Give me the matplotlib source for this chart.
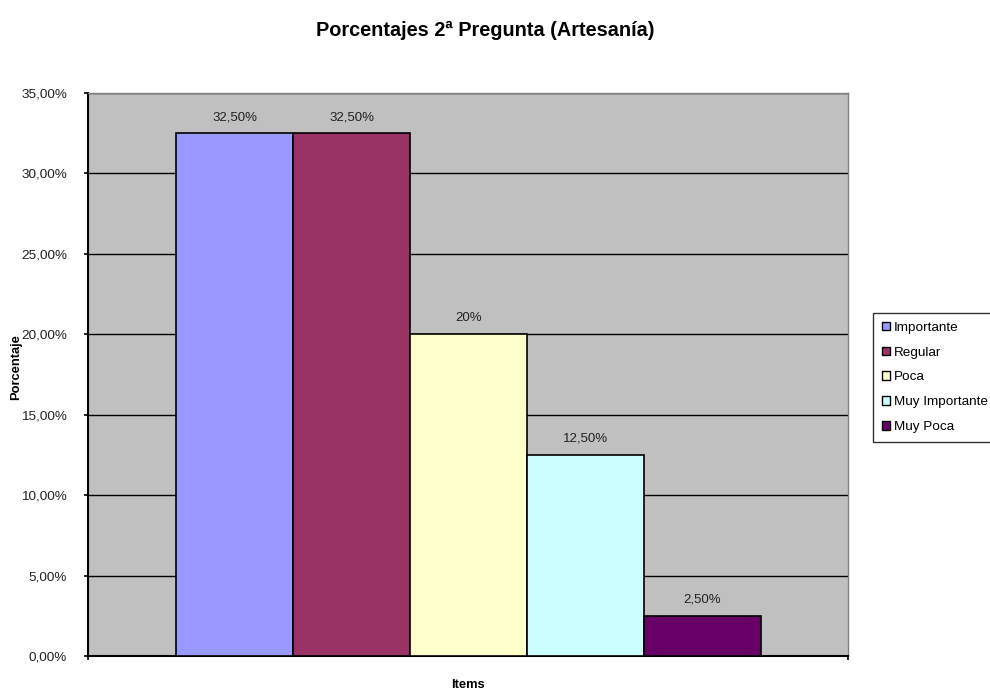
import matplotlib

matplotlib.use("Agg")

import matplotlib.pyplot as plt
from matplotlib.patches import Patch
from matplotlib.ticker import FuncFormatter, MultipleLocator

plt.rcParams["font.family"] = ["Liberation Sans", "DejaVu Sans"]

categories = ["Importante", "Regular", "Poca", "Muy Importante", "Muy Poca"]
values = [0.325, 0.325, 0.20, 0.125, 0.025]
value_labels = ["32,50%", "32,50%", "20%", "12,50%", "2,50%"]
colors = ["#9999FF", "#993366", "#FFFFCC", "#CCFFFF", "#660066"]

fig = plt.figure(figsize=(9.9, 6.92), dpi=100)
ax = fig.add_axes([88 / 990, 1 - 656 / 692, 760 / 990, 563 / 692])
ax.set_facecolor("#C0C0C0")

positions = list(range(len(values)))
bars = ax.bar(positions, values, width=1.0, align="edge", color=colors,
              edgecolor="black", linewidth=1.2, zorder=3)
for bar, text in zip(bars, value_labels):
    ax.annotate(text, (bar.get_x() + bar.get_width() / 2, bar.get_height()),
                xytext=(0, 11.5), textcoords="offset points", ha="center",
                va="center", fontsize=9.5, color="#222222")

ax.set_xlim(-0.752, 5.744)
ax.set_ylim(0, 0.35)
ax.yaxis.set_major_locator(MultipleLocator(0.05))
ax.yaxis.set_major_formatter(FuncFormatter(lambda v, _: f"{v * 100:.2f}%".replace(".", ",")))
ax.grid(axis="y", color="black", linewidth=1.0, zorder=1)
ax.set_axisbelow(True)
ax.set_xticks([-0.752, 5.744])
ax.set_xticklabels(["", ""])
ax.tick_params(axis="both", direction="out", length=3, width=1.2, labelsize=9.7, colors="black")
ax.tick_params(axis="y", pad=12, labelcolor="#222222")

for side in ["top", "right"]:
    ax.spines[side].set_color("#808080")
    ax.spines[side].set_linewidth(1.0)
for side in ["left", "bottom"]:
    ax.spines[side].set_color("black")
    ax.spines[side].set_linewidth(1.5)

fig.text(0.49, 1 - 30 / 692, "Porcentajes 2ª Pregunta (Artesanía)", ha="center", va="center",
         fontsize=14.3, fontweight="bold")
fig.text(16 / 990, 1 - 367 / 692, "Porcentaje", rotation=90, ha="center", va="center",
         fontsize=9.3, fontweight="bold")
fig.text(468 / 990, 1 - 685 / 692, "Items", ha="center", va="center", fontsize=9.3, fontweight="bold")

handles = [Patch(facecolor=c, edgecolor="black", linewidth=1.0) for c in colors]
leg = fig.legend(handles, categories, loc="upper left", bbox_to_anchor=(873 / 990, 1 - 313 / 692),
                 frameon=True, fancybox=False, fontsize=9.7, handlelength=0.6, handleheight=0.6,
                 handletextpad=0.3, labelspacing=0.95, borderpad=0.65, borderaxespad=0)
leg.get_frame().set_edgecolor("black")
leg.get_frame().set_linewidth(1.0)

fig.savefig("out.png", dpi=100)
